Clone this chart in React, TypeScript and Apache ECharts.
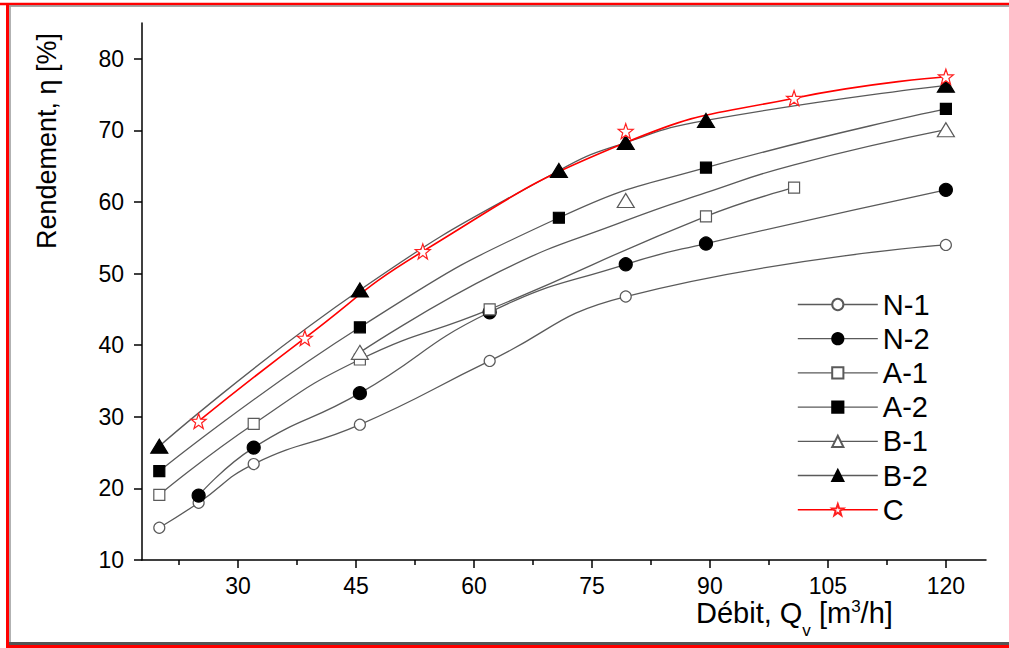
import React, { useEffect, useRef } from 'react';
import * as echarts from 'echarts';

const FONT = "'Liberation Sans', Arial, Helvetica, sans-serif";

const seriesNames = ['N-1', 'N-2', 'A-1', 'A-2', 'B-1', 'B-2', 'C'];

// measured points (markers)
const n1: number[][] = [[20, 14.5], [25, 18], [32, 23.4], [45.5, 28.9], [62, 37.8], [79.3, 46.8], [120, 54]];
const n2: number[][] = [[25, 19], [32, 25.7], [45.5, 33.3], [62, 44.6], [79.3, 51.3], [89.5, 54.2], [120, 61.7]];
const a1: number[][] = [[20, 19.1], [32, 29], [45.5, 38], [62, 45], [89.5, 58], [100.7, 62]];
const a2: number[][] = [[20, 22.4], [45.5, 42.5], [70.8, 57.8], [89.5, 64.8], [120, 73]];
const b1: number[][] = [[45.5, 39], [79.3, 60.2], [120, 70.1]];
const b2: number[][] = [[20, 25.9], [45.5, 47.7], [70.8, 64.4], [79.3, 68.3], [89.5, 71.4], [120, 76.3]];
const c: number[][] = [[25, 29.4], [38.5, 41], [53.5, 53.1], [79.3, 69.9], [100.7, 74.5], [120, 77.5]];

// fitted curves (where they leave the markers)
const b1Curve: number[][] = [[45.5, 39], [63.3, 50.3], [79.3, 57.4], [89.5, 61.3], [100.7, 65.2], [120, 70.1]];
const cCurve: number[][] = [[25, 29.4], [38.5, 41], [53.5, 53.1], [79.3, 68.3], [100.7, 74.5], [120, 77.5]];

const xMajorTicks = [30, 45, 60, 75, 90, 105, 120];
const xMinorTicks = [22.5, 37.5, 52.5, 67.5, 82.5, 97.5, 112.5];
const yTicks = [10, 20, 30, 40, 50, 60, 70, 80];

const STAR = 'path://M50 0 L61.76 33.82 L97.55 34.55 L69.02 56.18 L79.39 90.45 L50 70 L20.61 90.45 L30.98 56.18 L2.45 34.55 L38.24 33.82 Z';

const GRAY = '#5a5a5a';
const RED = '#ff0000';

function markers(name: string, data: number[][], symbol: string, size: number | number[], fill: string, stroke: string) {
  return {
    type: 'line',
    name,
    data,
    symbol,
    symbolSize: size,
    showAllSymbol: true,
    lineStyle: { color: GRAY, width: 1.3, opacity: 0 },
    itemStyle: { color: fill, borderColor: stroke, borderWidth: 1.2 },
    emphasis: { disabled: true },
    z: 5,
  };
}

function curve(id: string, data: number[][], color: string, width: number, z: number) {
  return {
    type: 'line',
    id,
    name: id,
    data,
    smooth: 0.5,
    symbol: 'none',
    lineStyle: { color, width },
    emphasis: { disabled: true },
    silent: true,
    z,
  };
}

export default function App() {
  const ref = useRef<HTMLDivElement>(null);
  useEffect(() => {
    const chart = echarts.init(ref.current!, null, { renderer: 'svg' });
    const axisCommon = {
      type: 'value',
      min: 17.8,
      max: 125.1,
      position: 'bottom',
      splitLine: { show: false },
    };
    const legendData = seriesNames.map((n) => ({
      name: n,
      lineStyle: { color: n === 'C' ? RED : GRAY, width: n === 'C' ? 1.6 : 1.3, opacity: 1 },
    }));
    const option: any = {
      animation: false,
      backgroundColor: '#fff',
      grid: { left: 142, right: 23, top: 23, bottom: 88, outerBoundsMode: 'none' },
      xAxis: [
        {
          ...axisCommon,
          axisLine: { show: true, lineStyle: { color: '#000', width: 1.5 } },
          axisTick: { show: true, customValues: xMajorTicks, length: 8, lineStyle: { color: '#000', width: 1.5 } },
          axisLabel: { show: true, customValues: xMajorTicks, fontSize: 23, color: '#000', fontFamily: FONT, margin: 14 },
        },
        {
          ...axisCommon,
          axisLine: { show: false },
          axisTick: { show: true, customValues: xMinorTicks, length: 5, lineStyle: { color: '#000', width: 1.5 } },
          axisLabel: { show: false },
        },
      ],
      yAxis: {
        type: 'value',
        min: 10,
        max: 85,
        splitLine: { show: false },
        axisLine: { show: true, lineStyle: { color: '#000', width: 1.5 } },
        axisTick: { show: true, customValues: yTicks, length: 8, lineStyle: { color: '#000', width: 1.5 } },
        axisLabel: { show: true, customValues: yTicks, fontSize: 23, color: '#000', fontFamily: FONT, margin: 18 },
      },
      legend: {
        orient: 'vertical',
        left: 797,
        top: 290,
        padding: 0,
        itemWidth: 80,
        itemHeight: 14,
        itemGap: 5.2,
        selectedMode: false,
        textStyle: { fontSize: 29, lineHeight: 29, color: '#000', fontFamily: FONT },
        data: legendData,
      },
      series: [
        curve('N-1 curve', n1, GRAY, 1.3, 2),
        curve('N-2 curve', n2, GRAY, 1.3, 2),
        curve('A-1 curve', a1, GRAY, 1.3, 2),
        curve('A-2 curve', a2, GRAY, 1.3, 2),
        curve('B-1 curve', b1Curve, GRAY, 1.3, 2),
        curve('B-2 curve', b2, GRAY, 1.3, 2),
        curve('C curve', cCurve, RED, 1.6, 3),
        markers('N-1', n1, 'circle', 11, '#fff', GRAY),
        markers('N-2', n2, 'circle', 13, '#000', '#000'),
        markers('A-1', a1, 'rect', 11, '#fff', GRAY),
        markers('A-2', a2, 'rect', 11, '#000', '#000'),
        markers('B-1', b1, 'triangle', [17, 14], '#fff', GRAY),
        markers('B-2', b2, 'triangle', [17, 14], '#000', '#000'),
        markers('C', c, STAR, [15, 15], '#fff', '#ff2020'),
      ],
      graphic: [
        { type: 'line', shape: { x1: 0, y1: 4, x2: 1009, y2: 4 }, style: { stroke: RED, lineWidth: 2.5 } },
        { type: 'line', shape: { x1: 9, y1: 6, x2: 1009, y2: 6 }, style: { stroke: '#888', lineWidth: 1.5 } },
        { type: 'line', shape: { x1: 7.5, y1: 3, x2: 7.5, y2: 648 }, style: { stroke: RED, lineWidth: 3 } },
        { type: 'line', shape: { x1: 10, y1: 6, x2: 10, y2: 643 }, style: { stroke: '#999', lineWidth: 1.5 } },
        { type: 'line', shape: { x1: 9, y1: 643.5, x2: 1009, y2: 643.5 }, style: { stroke: '#555', lineWidth: 3 } },
        { type: 'line', shape: { x1: 9, y1: 646.5, x2: 1009, y2: 646.5 }, style: { stroke: RED, lineWidth: 3 } },
        {
          type: 'text',
          x: 47,
          y: 141,
          rotation: Math.PI / 2,
          style: {
            text: 'Rendement, η [%]',
            fontSize: 27,
            fontFamily: FONT,
            fill: '#000',
            align: 'center',
            verticalAlign: 'middle',
            textAlign: 'center',
            textVerticalAlign: 'middle',
          },
        },
        {
          type: 'text',
          x: 696,
          y: 587,
          style: {
            text: '{a|Débit, Q}{s|v}{a| [m}{p|3}{a|/h]}',
            fontFamily: FONT,
            fill: '#000',
            align: 'left',
            verticalAlign: 'top',
            textAlign: 'left',
            textVerticalAlign: 'top',
            rich: {
              a: { fontSize: 29, lineHeight: 52, fontFamily: FONT, fill: '#000' },
              s: { fontSize: 17, lineHeight: 17, verticalAlign: 'bottom', fontFamily: FONT, fill: '#000' },
              p: { fontSize: 17, lineHeight: 17, verticalAlign: 'top', padding: [11, 0, 0, 0], fontFamily: FONT, fill: '#000' },
            },
          },
        },
      ],
    };
    chart.setOption(option);
    return () => chart.dispose();
  }, []);
  return (
    <div
      ref={ref}
      style={{ position: 'fixed', left: 0, top: 0, width: 1009, height: 648, background: '#fff' }}
    />
  );
}
